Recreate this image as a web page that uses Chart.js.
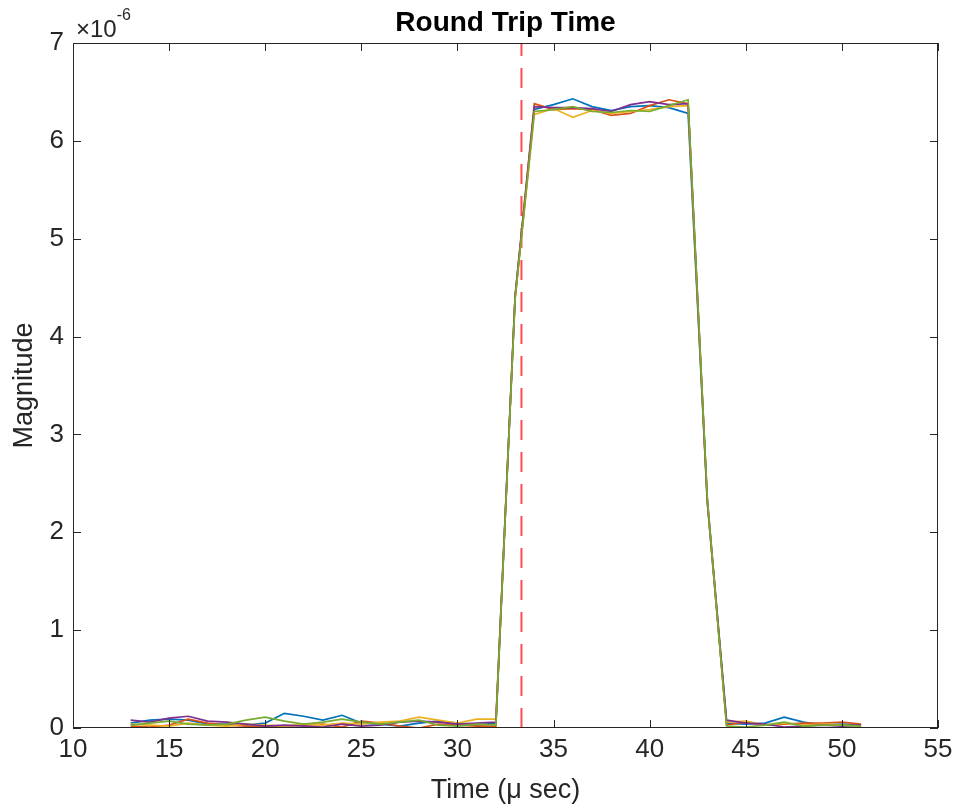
<!DOCTYPE html>
<html>
<head>
<meta charset="utf-8">
<script src="https://cdn.jsdelivr.net/npm/chart.js@4/dist/chart.umd.min.js"></script>
<style>
  html, body { margin: 0; padding: 0; background: #fff; }
  #wrap { width: 959px; height: 809px; }
</style>
</head>
<body>
<div id="wrap"><canvas id="rtt"></canvas></div>
<script>
// time axis (micro seconds), one sample per step
const times = [13,14,15,16,17,18,19,20,21,22,23,24,25,26,27,28,29,30,31,32,33,34,35,36,37,38,39,40,41,42,43,44,45,46,47,48,49,50,51];

// magnitudes, in units of 1e-6
const blue   = [0.05,0.08,0.09,0.08,0.04,0.04,0.03,0.05,0.15,0.12,0.08,0.13,0.05,0.04,0.02,0.05,0.07,0.05,0.03,0.05,4.40,6.32,6.37,6.43,6.35,6.31,6.35,6.36,6.34,6.28,2.30,0.05,0.04,0.05,0.11,0.06,0.03,0.04,0.03];
const orange = [0.02,0.01,0.03,0.09,0.05,0.03,0.02,0.01,0.02,0.03,0.04,0.01,0.07,0.05,0.02,0.00,0.04,0.03,0.02,0.02,4.42,6.38,6.32,6.33,6.32,6.26,6.28,6.36,6.42,6.38,2.32,0.03,0.06,0.03,0.04,0.05,0.05,0.06,0.04];
const yellow = [0.04,0.03,0.02,0.05,0.03,0.02,0.04,0.03,0.02,0.04,0.03,0.05,0.04,0.06,0.07,0.11,0.08,0.05,0.09,0.09,4.38,6.27,6.33,6.24,6.31,6.28,6.30,6.32,6.35,6.36,2.31,0.06,0.07,0.03,0.05,0.03,0.04,0.03,0.02];
const purple = [0.08,0.06,0.10,0.12,0.07,0.06,0.04,0.02,0.03,0.02,0.01,0.04,0.02,0.03,0.06,0.07,0.06,0.04,0.05,0.06,4.41,6.35,6.34,6.34,6.33,6.30,6.37,6.40,6.37,6.38,2.33,0.08,0.05,0.04,0.01,0.02,0.03,0.02,0.03];
const green  = [0.03,0.05,0.07,0.04,0.03,0.04,0.08,0.11,0.07,0.04,0.06,0.09,0.06,0.04,0.06,0.08,0.03,0.02,0.04,0.03,4.39,6.30,6.32,6.35,6.30,6.29,6.31,6.30,6.36,6.42,2.35,0.02,0.01,0.03,0.06,0.02,0.03,0.03,0.02];

// expected round trip time marker
const markerTime = 33.33;

const xTicks = [10,15,20,25,30,35,40,45,50,55];
const yTicks = [0,1,2,3,4,5,6,7];

const seriesNames = ['blue', 'orange', 'yellow', 'purple', 'green'];
const seriesData = [blue, orange, yellow, purple, green];
const seriesColors = ['#0072BD', '#D95319', '#EDB120', '#7E2F8E', '#77AC30'];

const axisColor = '#262626';
const font = 'Arial, "Liberation Sans", Helvetica, sans-serif';

// later series drawn on top, like MATLAB plot order
const datasets = seriesData.map((vals, i) => ({
  label: seriesNames[i],
  data: times.map((t, k) => ({ x: t, y: vals[k] })),
  borderColor: seriesColors[i],
  borderWidth: 1.7,
  pointRadius: 0,
  tension: 0,
  fill: false,
  order: seriesData.length - i
}));

datasets.push({
  label: 'marker',
  data: [{ x: markerTime, y: yTicks[0] }, { x: markerTime, y: yTicks[yTicks.length - 1] }],
  borderColor: 'rgba(255, 0, 0, 0.7)',
  borderWidth: 2,
  borderDash: [20, 12],
  pointRadius: 0,
  fill: false,
  order: 10
});

// MATLAB-ish box with inward ticks, title and exponent label
const matlabBox = {
  id: 'matlabBox',
  afterDatasetsDraw(chart) {
    const { ctx, chartArea: a, scales } = chart;
    ctx.save();
    ctx.strokeStyle = axisColor;
    ctx.lineWidth = 1;
    ctx.strokeRect(a.left + 0.5, a.top + 0.5, a.right - a.left - 1, a.bottom - a.top - 1);
    const tl = 8;
    ctx.beginPath();
    xTicks.forEach(v => {
      const px = Math.round(scales.x.getPixelForValue(v)) + 0.5;
      ctx.moveTo(px, a.bottom); ctx.lineTo(px, a.bottom - tl);
      ctx.moveTo(px, a.top); ctx.lineTo(px, a.top + tl);
    });
    yTicks.forEach(v => {
      const py = Math.round(scales.y.getPixelForValue(v)) + 0.5;
      ctx.moveTo(a.left, py); ctx.lineTo(a.left + tl, py);
      ctx.moveTo(a.right, py); ctx.lineTo(a.right - tl, py);
    });
    ctx.stroke();

    ctx.fillStyle = '#000';
    ctx.font = 'bold 28px ' + font;
    ctx.textAlign = 'center';
    ctx.textBaseline = 'middle';
    ctx.fillText('Round Trip Time', (a.left + a.right) / 2, 23);

    ctx.fillStyle = axisColor;
    ctx.textAlign = 'left';
    ctx.textBaseline = 'alphabetic';
    ctx.font = '24px ' + font;
    ctx.fillText('\u00d710', a.left + 3, a.top - 6);
    const w = ctx.measureText('\u00d710').width;
    ctx.font = '16px ' + font;
    ctx.fillText('-6', a.left + 3 + w, a.top - 23);
    ctx.restore();
  }
};

new Chart(document.getElementById('rtt'), {
  type: 'line',
  data: { datasets },
  options: {
    responsive: true,
    maintainAspectRatio: false,
    animation: false,
    layout: { padding: { top: 43, right: 21, left: 0, bottom: 0 } },
    plugins: {
      legend: { display: false },
      title: { display: false },
      tooltip: { enabled: false }
    },
    scales: {
      x: {
        type: 'linear',
        min: 10, max: 55,
        afterFit(s) { s.height = 81; },
        afterBuildTicks(s) { s.ticks = xTicks.map(v => ({ value: v })); },
        grid: { display: false, drawTicks: false },
        border: { display: false },
        ticks: { color: axisColor, font: { family: font, size: 26 }, padding: 6, maxRotation: 0 },
        title: { display: true, text: 'Time (\u03bc sec)', color: axisColor, font: { family: font, size: 27 }, padding: { top: 0, bottom: 2 } }
      },
      y: {
        min: 0, max: 7,
        afterFit(s) { s.width = 73; },
        afterBuildTicks(s) { s.ticks = yTicks.map(v => ({ value: v })); },
        grid: { display: false, drawTicks: false },
        border: { display: false },
        ticks: { color: axisColor, font: { family: font, size: 26 }, padding: 9 },
        title: { display: true, text: 'Magnitude', color: axisColor, font: { family: font, size: 27 }, padding: { top: 8, bottom: 0 } }
      }
    }
  },
  plugins: [matlabBox]
});
</script>
</body>
</html>
